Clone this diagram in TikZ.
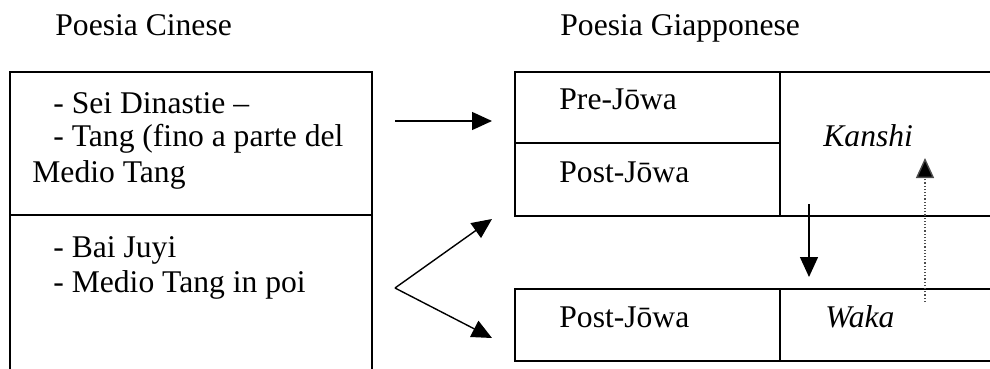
\documentclass[tikz,border=0pt]{standalone}
\usepackage{fontspec}
\setmainfont{Liberation Serif}
\usetikzlibrary{arrows.meta}
\tikzset{
    txt/.style={anchor=base west, inner sep=0pt, font=\fontsize{15.8}{17}\selectfont},
    rule/.style={line width=0.75pt},
    arrow/.style={line width=0.7pt, -{Triangle[length=10pt,width=9pt]}},
    dotarrow/.style={line width=0.7pt, dash pattern=on 0.6pt off 1pt, draw=black!70, -{Triangle[length=10pt,width=9pt,fill=black]}}
}
\begin{document}
\begin{tikzpicture}[x=0.5pt, y=-0.5pt]
    \useasboundingbox (0,0) rectangle (990,369);

    % titles
    \node (tcin) [txt] at (55,36) {Poesia Cinese};
    \node (tgia) [txt] at (560,36) {Poesia Giapponese};

    % Chinese box
    \draw [rule] (10,369) -- (10,72) -- (372,72) -- (372,369);
    \draw [rule] (10,215) -- (372,215);
    \node (cin1) [txt] at (53,113) {- Sei Dinastie –};
    \node (cin2) [txt] at (53,147) {- Tang (fino a parte del};
    \node (cin3) [txt] at (32,182) {Medio Tang};
    \node (cin4) [txt] at (53,257) {- Bai Juyi};
    \node (cin5) [txt] at (53,292) {- Medio Tang in poi};

    % Japanese boxes
    \draw [rule] (990,72) -- (515,72) -- (515,216) -- (990,216);
    \draw [rule] (780,72) -- (780,216);
    \draw [rule] (515,143) -- (780,143);
    \draw [rule] (990,289) -- (515,289) -- (515,361) -- (990,361);
    \draw [rule] (780,289) -- (780,361);
    \node (pre)   [txt] at (559,110) {Pre-Jōwa};
    \node (post1) [txt] at (559,182) {Post-Jōwa};
    \node (kan)   [txt, font=\fontsize{15.8}{17}\selectfont\itshape] at (823,147) {Kanshi};
    \node (post2) [txt] at (559,327) {Post-Jōwa};
    \node (waka)  [txt, font=\fontsize{15.8}{17}\selectfont\itshape] at (825,327) {Waka};

    % arrow ends
    \coordinate (a1) at (395,121);
    \coordinate (b1) at (492,121);
    \coordinate (fork) at (395,288);
    \coordinate (b2) at (492,219);
    \coordinate (b3) at (492,338);
    \coordinate (d1) at (809,204);
    \coordinate (d2) at (809,277);
    \coordinate (u1) at (925,302);
    \coordinate (u2) at (925,158);

    \draw [arrow] (a1) -- (b1);
    \draw [arrow] (fork) -- (b2);
    \draw [arrow] (fork) -- (b3);
    \draw [arrow] (d1) -- (d2);
    \draw [dotarrow] (u1) -- (u2);
\end{tikzpicture}
\end{document}
